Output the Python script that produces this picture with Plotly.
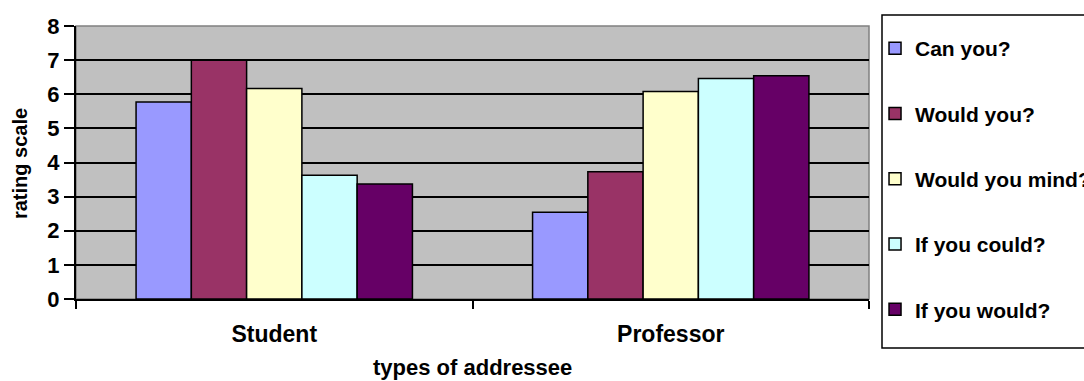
import plotly.graph_objects as go

# Ratings of request forms by type of addressee
addressees = ["Student", "Professor"]
forms = ["Can you?", "Would you?", "Would you mind?", "If you could?", "If you would?"]
can_you = [5.77, 2.54]
would_you = [7.0, 3.73]
would_you_mind = [6.17, 6.08]
if_you_could = [3.63, 6.46]
if_you_would = [3.37, 6.54]
series_values = [can_you, would_you, would_you_mind, if_you_could, if_you_would]
colors = ["#9999FF", "#993366", "#FFFFCC", "#CCFFFF", "#660066"]
y_ticks = [0, 1, 2, 3, 4, 5, 6, 7, 8]

FONT = "Liberation Sans, Arial, sans-serif"

fig = go.Figure()
for name, vals, col in zip(forms, series_values, colors):
    fig.add_trace(go.Bar(
        x=addressees, y=vals, name=name, legendgroup=name,
        marker=dict(color=col, line=dict(color="black", width=1.5)),
    ))

fig.update_layout(
    width=1084, height=381,
    margin=dict(l=76, r=215, t=26, b=82, autoexpand=False),
    paper_bgcolor="white", plot_bgcolor="#C0C0C0",
    barmode="group", bargap=0.303, bargroupgap=0,
    font=dict(family=FONT, color="black", size=22, weight="bold"),
    showlegend=True,
    legend=dict(
        x=1.0076, xanchor="left", y=0.9927, yanchor="top",
        bgcolor="rgba(0,0,0,0)", borderwidth=0,
        font=dict(family=FONT, size=21, weight="bold"),
        tracegroupgap=35, itemwidth=30, maxheight=370,
    ),
)

fig.update_yaxes(
    range=[0, 8], tickvals=y_ticks, ticktext=[str(v) for v in y_ticks],
    showgrid=True, gridcolor="black", gridwidth=1.5,
    showline=True, linecolor="black", linewidth=2,
    ticks="outside", ticklen=10, tickwidth=2, tickcolor="black",
    ticklabelstandoff=0, zeroline=False,
    tickfont=dict(family=FONT, size=22, weight="bold"),
)
fig.update_xaxes(
    showline=True, linecolor="black", linewidth=2,
    ticks="outside", tickson="boundaries", ticklen=8, tickwidth=2, tickcolor="black",
    ticklabelstandoff=13,
    tickfont=dict(family=FONT, size=23, weight="bold"),
)

# Plot-area border, drawn beneath the axes
fig.add_shape(type="rect", xref="paper", yref="paper", x0=0, x1=1, y0=0, y1=1,
              line=dict(color="#808080", width=1.5), layer="below")
# Legend frame
fig.add_shape(type="rect", xref="paper", yref="paper",
              x0=(882 - 76) / 793, x1=(1095 - 76) / 793,
              y0=(299 - 348) / 273, y1=(299 - 15) / 273,
              line=dict(color="black", width=1.5), fillcolor="rgba(0,0,0,0)")

fig.add_annotation(text="rating scale", textangle=-90, xref="paper", yref="paper",
                   x=(20 - 76) / 793, y=0.498, xanchor="center", yanchor="middle",
                   showarrow=False, font=dict(family=FONT, size=20, weight="bold"))
fig.add_annotation(text="types of addressee", xref="paper", yref="paper",
                   x=0.5, y=(299 - 367) / 273, xanchor="center", yanchor="middle",
                   showarrow=False, font=dict(family=FONT, size=22, weight="bold"))

fig.write_html("out.html")
